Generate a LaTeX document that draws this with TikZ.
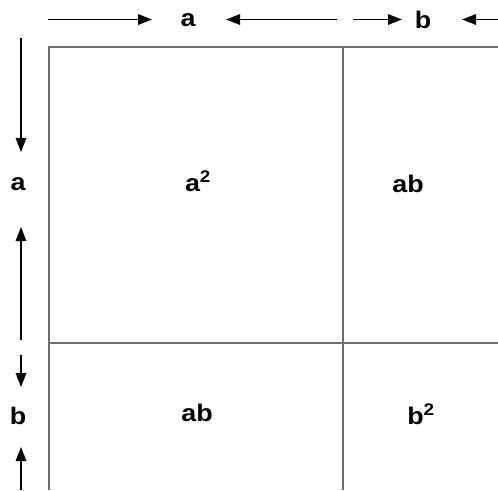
\documentclass[tikz,border=0pt]{standalone}
\usepackage{fontspec}
\setmainfont{Liberation Sans}
\usetikzlibrary{arrows.meta}
\definecolor{sqline}{RGB}{110,110,110}
\tikzset{
  lbl/.style={font=\fontsize{24}{28}\selectfont\bfseries, inner sep=0pt, xscale=1.12, transform shape},
  dimarrow/.style={draw=black, line width=1.6pt, -{Triangle[length=14pt,width=10.5pt]}},
  sqedge/.style={draw=sqline, line width=2.2pt}
}
\begin{document}
\begin{tikzpicture}[x=1pt,y=-1pt]
\useasboundingbox (0,0) rectangle (498,490);
% square (cropped)
\coordinate (tl) at (49,47);
\coordinate (tr) at (498,47);
\coordinate (bl) at (49,490);
\coordinate (vt) at (343,47);
\coordinate (vb) at (343,490);
\coordinate (hl) at (49,343);
\coordinate (hr) at (498,343);
\draw[sqedge] (tr) -- (tl) -- (bl);
\draw[sqedge] (vt) -- (vb);
\draw[sqedge] (hl) -- (hr);
% labels
\node[lbl] (ta) at (188,20) {a};
\node[lbl] (tb) at (423,20) {b};
\node[lbl] (la) at (18,184) {a};
\node[lbl] (lb) at (18,416) {b};
\node[lbl] (a2) at (198,181) {a\textsuperscript{2}};
\node[lbl] (ab1) at (408,184) {ab};
\node[lbl] (ab2) at (197,413) {ab};
\node[lbl] (b2) at (421,414) {b\textsuperscript{2}};
% top dimension arrows
\coordinate (t1s) at (48,19.5);  \coordinate (t1e) at (152,19.5);
\coordinate (t2s) at (337,19.5); \coordinate (t2e) at (226,19.5);
\coordinate (t3s) at (353,19.5); \coordinate (t3e) at (402,19.5);
\coordinate (t4s) at (498,19.5); \coordinate (t4e) at (462,19.5);
\draw[dimarrow] (t1s) -- (t1e);
\draw[dimarrow] (t2s) -- (t2e);
\draw[dimarrow] (t3s) -- (t3e);
\draw[dimarrow] (t4s) -- (t4e);
% left dimension arrows
\coordinate (l1s) at (21,38);  \coordinate (l1e) at (21,152);
\coordinate (l2s) at (21,340); \coordinate (l2e) at (21,227);
\coordinate (l3s) at (21,355); \coordinate (l3e) at (21,387);
\coordinate (l4s) at (21,490); \coordinate (l4e) at (21,447);
\draw[dimarrow] (l1s) -- (l1e);
\draw[dimarrow] (l2s) -- (l2e);
\draw[dimarrow] (l3s) -- (l3e);
\draw[dimarrow] (l4s) -- (l4e);
\end{tikzpicture}
\end{document}
